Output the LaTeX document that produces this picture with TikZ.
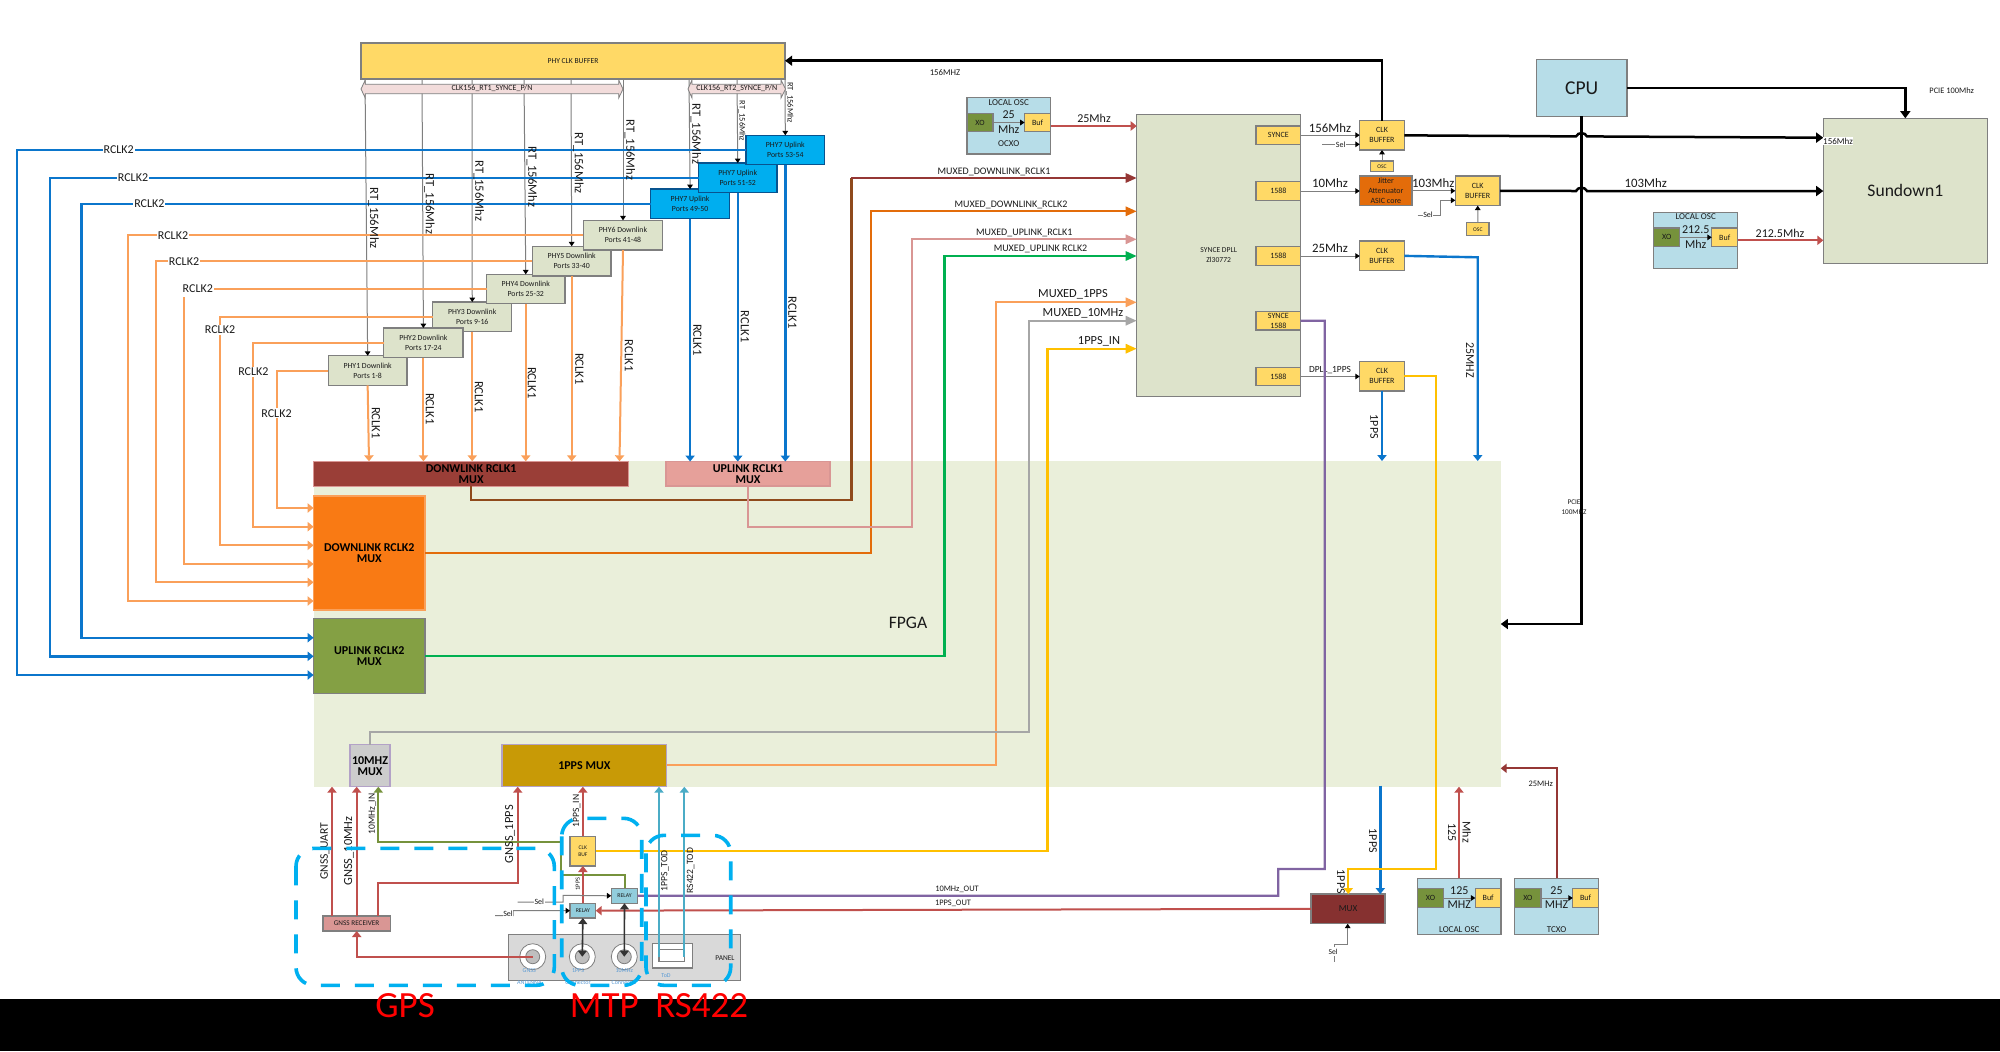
\documentclass[tikz,border=0pt]{standalone}
\usepackage{fontspec}
\setmainfont{Carlito}
\usetikzlibrary{arrows.meta}
\definecolor{txt}{HTML}{1A1A1A}
\definecolor{bord}{HTML}{7F7F7F}
\definecolor{sage}{HTML}{DDE3CB}
\definecolor{fpgac}{HTML}{EAEFDA}
\definecolor{yel}{HTML}{FFD966}
\definecolor{lblue}{HTML}{B7DDE8}
\definecolor{relayc}{HTML}{92CDDC}
\definecolor{xoc}{HTML}{76923C}
\definecolor{bluel}{HTML}{0B76CC}
\definecolor{upbox}{HTML}{00AEEF}
\definecolor{orl}{HTML}{FAA05A}
\definecolor{brownl}{HTML}{8F4A1C}
\definecolor{darkred}{HTML}{953735}
\definecolor{orl2}{HTML}{E36C0A}
\definecolor{pinkl}{HTML}{D99694}
\definecolor{greenl}{HTML}{00B050}
\definecolor{greyl}{HTML}{A6A6A6}
\definecolor{gold}{HTML}{FFC000}
\definecolor{redl}{HTML}{C0504D}
\definecolor{purp}{HTML}{8064A2}
\definecolor{tod}{HTML}{4BACC6}
\definecolor{olive}{HTML}{84A044}
\definecolor{dashc}{HTML}{00B0F0}
\definecolor{conn}{HTML}{5B9BD5}
\definecolor{mordn}{HTML}{F97A14}
\definecolor{mgold}{HTML}{C89A06}
\definecolor{mpink}{HTML}{E6A09A}
\definecolor{mred}{HTML}{9A3E37}
\definecolor{bandc}{HTML}{F2DCDB}
\tikzset{
  x=0.5pt,y=-0.5pt,
  box/.style={draw=bord,line width=0.55pt,inner sep=0pt,outer sep=0pt,align=center,text=txt},
  lab/.style={inner sep=0pt,outer sep=0pt,align=center,text=txt},
  s/.style={font=\fontsize{#1}{#1}\selectfont},
  sl/.style n args={2}{font=\fontsize{#1}{#2}\selectfont},
  sb/.style n args={2}{font=\fontsize{#1}{#2}\selectfont\bfseries},
  lw/.style={line width=#1,-{Triangle[length=3pt,width=4.6pt]}},
  mx/.style={line width=1.1pt,-{Triangle[length=5.5pt,width=4.6pt]}},
  wire/.style={draw=bord,line width=0.5pt,-{Triangle[length=2.2pt,width=2.8pt,color=black]}},
  plainwire/.style={draw=bord,line width=0.5pt},
  thk/.style={draw=black,line width=1.25pt},
  thka/.style={thk,-{Triangle[length=3.6pt,width=5pt]}},
  band/.style={draw=bord,line width=0.4pt,fill=bandc},
  dsh/.style={draw=dashc,line width=1.8pt,rounded corners=9pt,dash pattern=on 9.5pt off 7.5pt},
  phyd/.style={fill=sage,sl={3.9}{5}},
  phyu/.style={fill=upbox,draw=bluel!70!black,sl={3.9}{5}},
  ybox/.style={fill=yel,sl={4}{5}},
  rk/.style={s=6,fill=white,inner xsep=0.5pt,inner ysep=0.5pt},
  rv/.style={s=6.3,rotate=-90},
  ru/.style={rotate=90},
  oran/.style={lw=1pt,draw=orl},
  blu/.style={lw=1.2pt,draw=bluel},
  rd/.style={lw=1pt,draw=redl},
  grn/.style={lw=1pt,draw=xoc},
}
\newcommand\bx[7]{\node[box,#6,minimum width={(#4-#2)*0.5pt},minimum height={(#5-#3)*0.5pt}] (#1) at ({(#2+#4)/2},{(#3+#5)/2}) {#7};}
\newcommand\lb[5]{\node[lab,#4] (#1) at (#2,#3) {#5};}
\begin{document}
\begin{tikzpicture}
\useasboundingbox (0,0) rectangle (2000,1051);
\fill[white] (0,0) rectangle (2000,1051);
% FPGA background
\bx{fpga}{313.6}{461}{1500.7}{786.7}{fill=fpgac,draw=none}{}
\lb{fpgat}{908}{623}{s=8.8}{FPGA}
% PHY CLK buffer
\bx{pcb}{361}{43}{785}{79}{fill=yel,s=3.8}{PHY CLK BUFFER}
% PHY boxes
\bx{p1}{328.3}{355.7}{407}{385.4}{phyd}{PHY1 Downlink\\Ports 1-8}
\bx{p3}{432.7}{302}{511.8}{331.7}{phyd}{PHY3 Downlink\\Ports 9-16}
\bx{p2}{383.8}{328}{463}{357.7}{phyd}{PHY2 Downlink\\Ports 17-24}
\bx{p4}{486.5}{274.3}{565}{303.7}{phyd}{PHY4 Downlink\\Ports 25-32}
\bx{p5}{532.4}{246.3}{611}{276}{phyd}{PHY5 Downlink\\Ports 33-40}
\bx{p6}{583.3}{220.3}{662.7}{250}{phyd}{PHY6 Downlink\\Ports 41-48}
\bx{u1}{650.7}{189}{729.5}{218.7}{phyu}{PHY7 Uplink\\Ports 49-50}
\bx{u2}{698.5}{163}{777}{192.7}{phyu}{PHY7 Uplink\\Ports 51-52}
\bx{u3}{746}{135.3}{824.6}{164.7}{phyu}{PHY7 Uplink\\Ports 53-54}
% grey clock lines
\coordinate (gt1) at (365,79); \coordinate (gt2) at (422,79); \coordinate (gt3) at (472,79);
\coordinate (gt4) at (524,79); \coordinate (gt5) at (571,79); \coordinate (gt6) at (623,79);
\coordinate (gt7) at (689,79); \coordinate (gt8) at (737,79); \coordinate (gt9) at (785,79);
\draw[wire] (gt1) -- (p1.north);
\draw[wire] (gt2) -- (p2.north);
\draw[wire] (gt3) -- (p3.north);
\draw[wire] (gt4) -- (p4.north);
\draw[wire] (gt5) -- (p5.north);
\draw[wire] (gt6) -- (p6.north);
\draw[wire] (gt7) -- (u1.north);
\draw[wire] (gt8) -- (u2.north);
\draw[wire] (gt9) -- (u3.north);
\draw[band] (361,89)--(365.3,80)--(365.3,84.3)--(618.7,84.3)--(618.7,80)--(623,89)--(618.7,98)--(618.7,93.7)--(365.3,93.7)--(365.3,98)--cycle;
\draw[band] (688,89)--(692,80)--(692,84.3)--(781,84.3)--(781,80)--(785.5,89)--(781,98)--(781,93.7)--(692,93.7)--(692,98)--cycle;
\lb{b1}{492}{88.7}{s=4}{CLK156\_RT1\_SYNCE\_P/N}
\lb{b2}{736.7}{88.7}{s=4}{CLK156\_RT2\_SYNCE\_P/N}
% muxes
\bx{dm1}{313.6}{461.3}{628.8}{486.3}{fill=mred,draw=pinkl,sb={6}{5.4},text=black}{DONWLINK RCLK1\\MUX}
\bx{um1}{666}{461.5}{830}{486}{fill=mpink,draw=pinkl,sb={6}{5.4},text=black}{UPLINK RCLK1\\MUX}
\bx{dm2}{313.6}{496}{425}{610}{fill=mordn,draw=orl,sb={6}{5.4},text=black}{DOWNLINK RCLK2\\MUX}
\bx{um2}{313.6}{618.7}{425}{693.3}{fill=olive,sb={6}{5.4},text=black}{UPLINK RCLK2\\MUX}
\bx{m10}{350}{744.7}{390}{786.7}{fill=black!20,draw=purp!60!white,sb={6}{5.4},text=black}{10MHZ\\MUX}
\bx{mpps}{502}{744.7}{666.7}{786.7}{fill=mgold,draw=purp!60!white,sb={6}{5.4},text=black}{1PPS MUX}
% blue RCLK2
\draw[blu] (u3.west |- 0,150) -| (16.8,675) -- (um2.west |- 0,675);
\draw[blu] (u2.west |- 0,178) -| (49.7,656.3) -- (um2.west |- 0,656.3);
\draw[blu] (u1.west |- 0,203.7) -| (81.6,637.7) -- (um2.west |- 0,637.7);
% orange RCLK2
\draw[oran] (p6.west |- 0,235.3) -| (128,601) -- (dm2.west |- 0,601);
\draw[oran] (p5.west |- 0,261.3) -| (156,582.3) -- (dm2.west |- 0,582.3);
\draw[line width=1pt,draw=orl] (p4.west |- 0,289) -- (214,289);
\draw[oran] (184,297) -- (184,564) -- (dm2.west |- 0,564);
\draw[oran] (p3.west |- 0,317) -| (220,545.3) -- (dm2.west |- 0,545.3);
\draw[oran] (p2.west |- 0,343) -| (253.4,526.7) -- (dm2.west |- 0,526.7);
\draw[oran] (p1.west |- 0,370.7) -| (276.5,508) -- (dm2.west |- 0,508);
% RCLK2 labels
\lb{r1}{118.7}{150}{rk}{RCLK2}
\lb{r2}{133}{178}{rk}{RCLK2}
\lb{r3}{149.4}{203.7}{rk}{RCLK2}
\lb{r4}{173}{235.3}{rk}{RCLK2}
\lb{r5}{184}{261.3}{rk}{RCLK2}
\lb{r6}{197.8}{289}{rk}{RCLK2}
\lb{r7}{220}{329.7}{rk}{RCLK2}
\lb{r8}{253.4}{371.7}{rk}{RCLK2}
\lb{r9}{276.5}{413.3}{rk}{RCLK2}
% RCLK1 down
\draw[oran] (p1.south) -- (dm1.north -| 369,0);
\draw[oran] (p2.south) -- (p2.south |- dm1.north);
\draw[oran] (p3.south) -- (p3.south |- dm1.north);
\draw[oran] (p4.south) -- (p4.south |- dm1.north);
\draw[oran] (p5.south) -- (p5.south |- dm1.north);
\draw[oran] (p6.south) -- (dm1.north -| 619.5,0);
\draw[blu] (u1.south) -- (u1.south |- um1.north);
\draw[blu] (u2.south) -- (u2.south |- um1.north);
\draw[blu] (u3.south) -- (u3.south |- um1.north);
\lb{k1}{376}{423}{rv}{RCLK1}
\lb{k2}{430}{409}{rv}{RCLK1}
\lb{k3}{479}{397}{rv}{RCLK1}
\lb{k4}{532}{383}{rv}{RCLK1}
\lb{k5}{579.5}{369}{rv}{RCLK1}
\lb{k6}{628.8}{355.7}{rv}{RCLK1}
\lb{k7}{697.5}{340}{rv}{RCLK1}
\lb{k8}{745}{326.7}{rv}{RCLK1}
\lb{k9}{792.5}{312.7}{rv}{RCLK1}
\lb{q1}{373.7}{218.3}{rv}{RT\_156Mhz}
\lb{q2}{429.3}{204}{rv}{RT\_156Mhz}
\lb{q3}{479}{190.7}{rv}{RT\_156Mhz}
\lb{q4}{532}{176.7}{rv}{RT\_156Mhz}
\lb{q5}{578.3}{163.3}{rv}{RT\_156Mhz}
\lb{q6}{630}{150}{rv}{RT\_156Mhz}
\lb{q7}{696}{134}{rv}{RT\_156Mhz}
\lb{q8}{742}{121}{s=4.2,rotate=-90}{RT\_156Mhz}
\lb{q9}{790}{102.7}{s=4.2,rotate=-90}{RT\_156Mhz}
% OCXO
\bx{ocxo}{967}{97.7}{1050.5}{154}{fill=lblue}{}
\bx{ocxoxo}{967}{113.3}{993}{131.7}{fill=xoc,s=4}{XO}
\bx{ocxobuf}{1024.6}{113.3}{1050.5}{131.7}{fill=yel,s=4}{Buf}
\lb{o1}{1008.7}{102.5}{s=4.5}{LOCAL OSC}
\lb{o2}{1008.7}{115}{s=6}{25}
\lb{o3}{1008.7}{129.7}{s=6}{Mhz}
\lb{o4}{1008.7}{143.7}{s=4.5}{OCXO}
\draw[wire] (ocxoxo) -- (ocxobuf);
% DPLL
\bx{dpll}{1136.7}{114.7}{1300.7}{396.3}{fill=sage,sl={3.8}{5}}{SYNCE DPLL\\Zl30772}
\bx{se}{1256}{126}{1300.7}{144.3}{ybox}{SYNCE}
\bx{pa}{1256}{181.7}{1300.7}{200.3}{ybox}{1588}
\bx{pb}{1256}{246.7}{1300.7}{265.3}{ybox}{1588}
\bx{sy2}{1256}{311.3}{1300.7}{330}{ybox}{SYNCE\\1588}
\bx{pc}{1256}{367.3}{1300.7}{385.7}{ybox}{1588}
\bx{clka}{1359.7}{120.7}{1404.3}{150}{ybox}{CLK\\BUFFER}
\bx{osca}{1370.7}{161}{1393.3}{171.7}{fill=yel,s=2.8}{OSC}
\bx{jit}{1359.7}{176}{1412}{205.7}{fill=orl2,sl={4}{5}}{Jitter\\Attenuator\\ASIC core}
\bx{clkb}{1455.3}{176}{1500}{205.7}{ybox}{CLK\\BUFFER}
\bx{oscb}{1466.7}{222.7}{1489}{235.7}{fill=yel,s=2.8}{OSC}
\bx{clkc}{1359.7}{241}{1404.3}{270.7}{ybox}{CLK\\BUFFER}
\bx{clkd}{1359.7}{361.7}{1404.3}{391}{ybox}{CLK\\BUFFER}
\draw[wire] (se.east) -- (se.east -| clka.west);
\draw[wire] (pa.east) -- (pa.east -| jit.west);
\draw[wire] (jit.east) -- (jit.east -| clkb.west);
\draw[wire] (pb.east) -- (pb.east -| clkc.west);
\draw[wire] (pc.east) -- (pc.east -| clkd.west);
\draw[wire] (osca) -- (clka);
\draw[wire] (oscb) -- (clkb);
\coordinate (sela) at (1322,144.3);
\draw[wire] (sela) -- (sela -| clka.west);
\lb{sa}{1340.7}{144.3}{s=4,fill=white,inner sep=0.3pt}{Sel}
\coordinate (selb) at (1417.7,215);
\draw[wire] (selb) -- (1440.3,215) |- (clkb.west |- 0,200.3);
\lb{sb1}{1428}{215}{s=4,fill=white,inner sep=0.3pt}{Sel}
\lb{f1}{1330}{127.7}{s=6.4}{156Mhz}
\lb{f2}{1330}{183.3}{s=6.4}{10Mhz}
\lb{f3}{1433.3}{183.3}{s=6.4}{103Mhz}
\lb{f4}{1330}{248}{s=6.4}{25Mhz}
\lb{f5}{1330}{370}{s=4.7}{DPLL\_1PPS}
% Right side
\bx{cpu}{1536.3}{59.7}{1627}{116.3}{fill=lblue,s=9.8}{CPU}
\bx{sd}{1823.3}{118.3}{1987.3}{263.3}{fill=sage,s=8.8}{Sundown1}
\draw[thka] (cpu.south -| 1581.7,0) |- (fpga.east |- 0,624);
\draw[thka] (cpu.east |- 0,88) -| (sd.north);
\draw[thka] (clka.east) -- (1576,136.4) .. controls (1578,132) and (1585,132) .. (1587,136.4) -- (sd.west |- 0,137.7);
\draw[thka] (clkb.east) -- (1576,191) .. controls (1578,186.6) and (1585,186.6) .. (1587,191) -- (sd.west |- 0,191);
\draw[thka] (clka.north) |- (pcb.east |- 0,60.7);
\lb{l156}{945}{72.7}{s=4.4}{156MHZ}
\lb{lpc}{1951.7}{90.7}{s=4.2}{PCIE 100Mhz}
\lb{l156b}{1838}{141}{s=4.5,fill=white,inner sep=0.3pt}{156Mhz}
\lb{lpc2}{1574}{507.6}{sl={3.6}{5}}{PCIE\\100MHZ}
\lb{l103}{1645.7}{183.3}{s=6.4}{103Mhz}
% Local OSC 212.5
\bx{osc2}{1653.7}{212.7}{1737.7}{268.7}{fill=lblue}{}
\bx{osc2xo}{1653.7}{228}{1679.7}{246.7}{fill=xoc,s=4}{XO}
\bx{osc2buf}{1711.7}{228}{1737.7}{246.7}{fill=yel,s=4}{Buf}
\lb{o5}{1695.7}{216.7}{s=4.5}{LOCAL OSC}
\lb{o6}{1695.7}{230}{s=6}{212.5}
\lb{o7}{1695.7}{244}{s=6}{Mhz}
\draw[wire] (osc2xo) -- (osc2buf);
\draw[rd] (osc2buf.east |- 0,240.3) -- (sd.west |- 0,240.3);
\lb{l212}{1780}{233}{s=6}{212.5Mhz}
\draw[rd] (ocxobuf.east |- 0,126) -- (dpll.west |- 0,126);
\lb{l25}{1094}{118}{s=6}{25Mhz}
% 25MHz and 1PPS blue
\draw[blu] (clkc.east) -- (1477.7,257.3) -- (1477.7,461);
\draw[blu] (clkd.south) -- (clkd.south |- fpga.north);
\lb{l25z}{1470}{360}{s=6,rotate=-90}{25MHZ}
\lb{l1p}{1374.3}{426.7}{s=6,rotate=-90}{1PPS}
% Bottom right
\bx{mux}{1311}{894}{1385}{923.7}{fill=darkred!90!black,s=4.6}{MUX}
\bx{osc3}{1417.7}{878.3}{1501}{934.3}{fill=lblue}{}
\bx{osc3xo}{1417.7}{888.7}{1443.3}{907.3}{fill=xoc,s=4}{XO}
\bx{osc3buf}{1475.3}{888.7}{1501}{907.3}{fill=yel,s=4}{Buf}
\lb{o8}{1459.3}{890.7}{s=6}{125}
\lb{o9}{1459.3}{905}{s=6}{MHZ}
\lb{o10}{1459.3}{929.3}{s=4.5}{LOCAL OSC}
\draw[wire] (osc3xo) -- (osc3buf);
\bx{tc}{1514.7}{878.3}{1598.3}{934.3}{fill=lblue}{}
\bx{tcxo}{1514.7}{888.7}{1541}{907.3}{fill=xoc,s=4}{XO}
\bx{tcbuf}{1572.7}{888.7}{1598.3}{907.3}{fill=yel,s=4}{Buf}
\lb{o11}{1556.5}{890.7}{s=6}{25}
\lb{o12}{1556.5}{905}{s=6}{MHZ}
\lb{o13}{1556.5}{929.3}{s=4.5}{TCXO}
\draw[wire] (tcxo) -- (tcbuf);
\draw[rd] (osc3.north -| 1459,0) -- (1459,786.7);
\draw[lw=1pt,draw=darkred] (tc.north) |- (fpga.east |- 0,768.3);
\lb{l125}{1452}{832.3}{s=6,rotate=-90}{125}
\lb{lmhz}{1466.7}{832.3}{s=6,rotate=-90}{Mhz}
\lb{ltc}{1540.7}{783.3}{s=4.2}{25MHz}
\draw[blu] (1380.3,785.7) -- (1380.3,894);
\lb{lp1}{1373}{840.7}{s=6,rotate=-90}{1PPS}
\lb{lp2}{1341}{881.7}{s=6,rotate=-90}{1PPS}
\coordinate (selm) at (1334,961.7);
\draw[plainwire] (selm) -- (1334,956);
\draw[wire] (1334,947) -- (1334,944) -| (mux.south -| 1347.7,0);
\lb{sm}{1333}{951.7}{s=3.8}{Sel}
% Bottom left
\bx{gnss}{323}{916}{390.3}{931}{fill=pinkl,s=3.6}{GNSS RECEIVER}
\bx{cbuf}{570}{836.3}{595.7}{866}{fill=yel,sl={2.8}{3.8}}{CLK\\BUF}
\bx{rel1}{570}{903.3}{595.7}{918}{fill=relayc,s=2.9}{RELAY}
\bx{rel2}{611.3}{888.3}{637.7}{903.3}{fill=relayc,s=2.9}{RELAY}
\bx{panel}{508.7}{934.7}{740.3}{980.7}{fill=black!15}{}
\lb{plab}{725}{957.7}{s=3.7}{PANEL}
\node[circle,draw=bord,fill=white,line width=0.4pt,minimum size=13pt,inner sep=0pt] (c1) at (532.7,956.7) {};
\node[circle,draw=bord,fill=black!25,line width=0.4pt,minimum size=7pt,inner sep=0pt] (c1i) at (532.7,956.7) {};
\node[circle,draw=bord,fill=white,line width=0.4pt,minimum size=13pt,inner sep=0pt] (c2) at (582.3,956.7) {};
\node[circle,draw=bord,fill=black!25,line width=0.4pt,minimum size=7pt,inner sep=0pt] (c2i) at (582.3,956.7) {};
\node[circle,draw=bord,fill=white,line width=0.4pt,minimum size=13pt,inner sep=0pt] (c3) at (624.3,956.7) {};
\node[circle,draw=bord,fill=black!25,line width=0.4pt,minimum size=7pt,inner sep=0pt] (c3i) at (624.3,956.7) {};
\lb{cl1}{529.3}{976.5}{sl={3}{6},text=conn}{GNSS\\ANTENNA}
\lb{cl2}{578}{976.5}{sl={3}{6},text=conn}{1PPS\\Connector}
\lb{cl3}{624.3}{976.5}{sl={3}{6},text=conn}{10MHz\\Connector}
\bx{todo}{652.7}{943.7}{692.3}{968}{fill=white}{}
\bx{todi}{659}{949.7}{684.7}{961.7}{fill=white}{}
\lb{tdl}{666}{976}{s=3,text=conn}{ToD}
% GNSS wires
\draw[rd] (c1i.center) -| (gnss.south -| 356.7,0);
\draw[rd] (gnss.north -| 332,0) -- (332,786.7);
\draw[rd] (gnss.north) -- (gnss.north |- m10.south);
\draw[rd] (gnss.north -| 378.3,0) -- (378.3,883.3) -| (517.7,786.7);
\draw[grn] (561,842) -- (378.3,842) -- (378.3,786.7);
\draw[line width=1pt,draw=xoc] (561,842) -- (561,875) -| (rel2.north);
\draw[rd] (cbuf.north) -- (cbuf.north |- mpps.south);
\draw[rd] (rel1.north) -- (cbuf.south);
\draw[rd] (mux.west) -- (rel1.east);
\draw[line width=1.1pt,draw=purp] (sy2.east) -| (1324.7,869) -| (1278.3,895.7) -- (rel2.east);
\draw[mx,draw=gold] (cbuf.east |- 0,851) -| (1047.4,348.7) -- (dpll.west |- 0,348.7);
\draw[lw=1.1pt,draw=gold] (clkd.east) -| (1436,869) -| (mux.north -| 1348.3,0);
\draw[lw=1pt,draw=tod] (659,956.7) -- (mpps.south -| 659,0);
\draw[lw=1pt,draw=tod] (684.3,956.7) -- (684.3,786.7);
\draw[wire] (517.7,902) -- (563,902) -- (563,895.3) -- (rel2.west);
\lb{sl1}{539.3}{902}{s=4,fill=white,inner sep=0.3pt}{Sel}
\draw[wire] (495,915.7) -- (513,915.7) -- (513,910.7) -- (rel1.west);
\lb{sl2}{508}{913.3}{s=4,fill=white,inner sep=0.3pt}{Sel}
\draw[line width=0.8pt,draw=black!80,{Triangle[length=3pt,width=4.4pt]}-{Triangle[length=3pt,width=4.4pt]}] (c2i.center) -- (rel1.south);
\draw[line width=0.8pt,draw=black!80,{Triangle[length=3pt,width=4.4pt]}-{Triangle[length=3pt,width=4.4pt]}] (c3i.center) -- (rel2.south);
% coloured muxed lines
\draw[line width=1.1pt,draw=brownl] (dm1.south) |- (851.4,500) -- (851.4,178);
\draw[mx,draw=darkred] (851.4,178) -- (dpll.west |- 0,178);
\draw[mx,draw=orl2] (dm2.east |- 0,553) -| (871,211.3) -- (dpll.west |- 0,211.3);
\draw[mx,draw=pinkl] (um1.south) |- (912,527) -- (912,239.3) -- (dpll.west |- 0,239.3);
\draw[mx,draw=greenl] (um2.east |- 0,656.3) -| (944.4,256) -- (dpll.west |- 0,256);
\draw[mx,draw=orl] (mpps.east |- 0,765) -| (995.7,302.3) -- (dpll.west |- 0,302.3);
\draw[mx,draw=greyl] (m10.north) |- (1029,731.7) -- (1029,320.7) -- (dpll.west |- 0,320.7);
\lb{m1}{994}{171.7}{s=5}{MUXED\_DOWNLINK\_RCLK1}
\lb{m2}{1011}{205}{s=5}{MUXED\_DOWNLINK\_RCLK2}
\lb{m3}{1024.3}{232.7}{s=5}{MUXED\_UPLINK\_RCLK1}
\lb{m4}{1040.5}{249.3}{s=5}{MUXED\_UPLINK RCLK2}
\lb{m5}{1073}{294.7}{s=6.2}{MUXED\_1PPS}
\lb{m6}{1083}{313}{s=6.2}{MUXED\_10MHz}
\lb{m7}{1099}{341}{s=6.2}{1PPS\_IN}
\lb{o10m}{957}{889}{s=4.2}{10MHz\_OUT}
\lb{o1p}{953}{903}{s=4.2}{1PPS\_OUT}
% vertical labels bottom left
\lb{g1}{325}{851}{s=5.8,ru}{GNSS\_UART}
\lb{g2}{349}{851}{s=6.2,ru}{GNSS\_10MHz}
\lb{g3}{510}{834.3}{s=6.2,ru}{GNSS\_1PPS}
\lb{g4}{372.3}{814}{s=4.8,ru}{10MHz\_IN}
\lb{g5}{576.7}{811}{s=4.8,ru}{1PPS\_IN}
\lb{g6}{577.7}{884}{s=3.2,ru}{1PPS}
\lb{g7}{665}{870.7}{s=4.8,ru}{1PPS\_TOD}
\lb{g8}{690.7}{870.7}{s=4.8,ru}{RS422\_TOD}
% dashed groups
\draw[dsh] (296,848.3) rectangle (554.3,985.3);
\draw[dsh] (561.7,818.3) rectangle (641.7,985.3);
\draw[dsh] (646,835.3) rectangle (730.7,985.3);
% black strip
\bx{strip}{0}{999}{2000}{1051}{fill=black,draw=none}{}
\lb{gps}{405}{1006}{s=18.5,text=red}{GPS}
\lb{mtp}{604.3}{1006}{s=18.5,text=red}{MTP}
\lb{rs}{701.7}{1006}{s=18.5,text=red}{RS422}
\end{tikzpicture}
\end{document}
